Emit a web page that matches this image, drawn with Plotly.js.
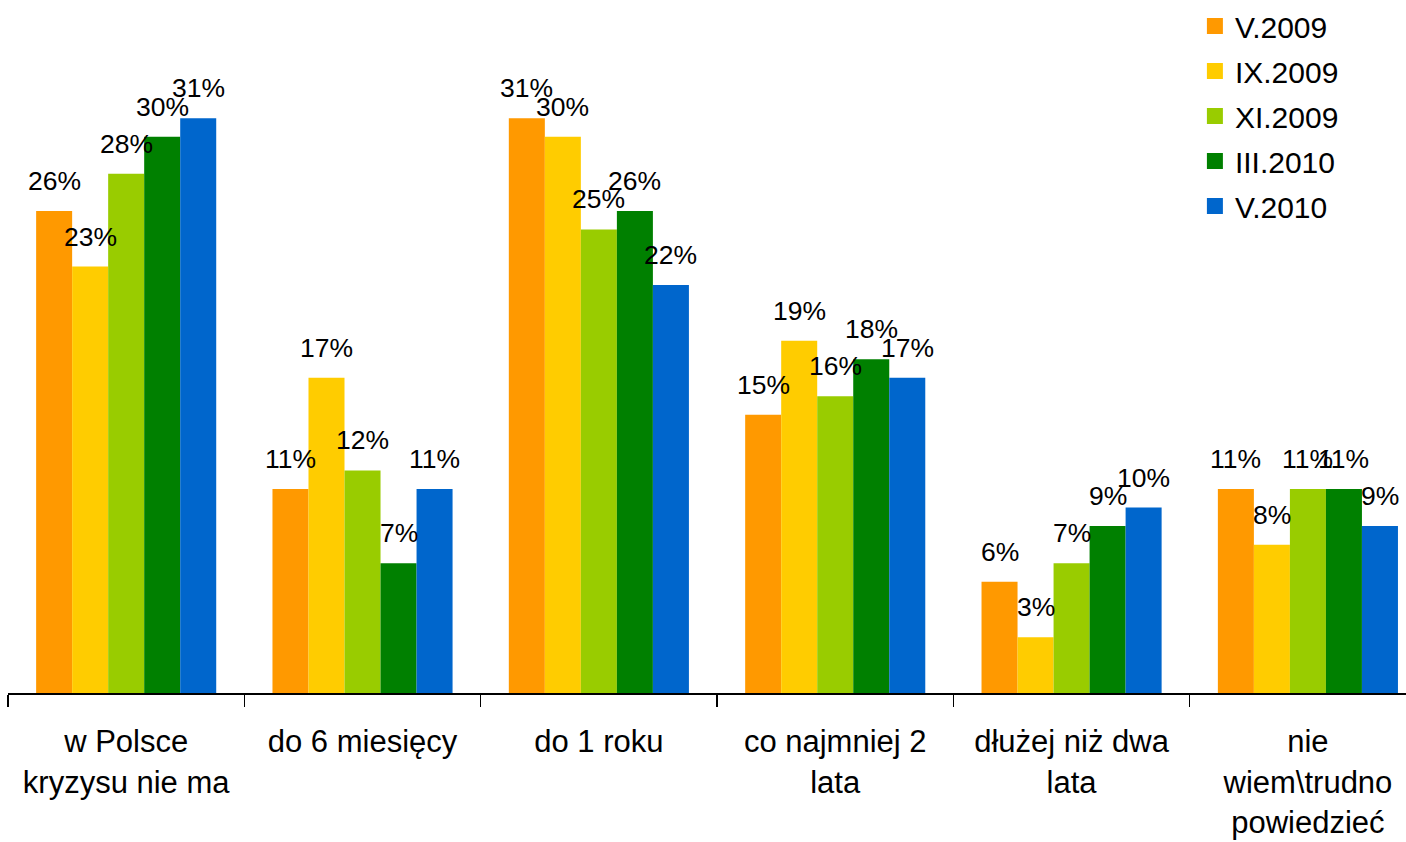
<!DOCTYPE html>
<html>
<head>
<meta charset="utf-8">
<script src="https://cdn.plot.ly/plotly-3.0.1.min.js"></script>
<style>html,body{margin:0;padding:0;background:#fff;overflow:hidden;}</style>
</head>
<body>
<div id="chart" style="width:1406px;height:842px;"></div>
<script>
const categories = [
  "w Polsce<br>kryzysu nie ma",
  "do 6 miesięcy",
  "do 1 roku",
  "co najmniej 2<br>lata",
  "dłużej niż dwa<br>lata",
  "nie<br>wiem\\trudno<br>powiedzieć"
];
const seriesNames = ["V.2009", "IX.2009", "XI.2009", "III.2010", "V.2010"];
const seriesColors = ["#FF9900", "#FFCC00", "#99CC00", "#008000", "#0066CC"];
const v2009a = [26, 11, 31, 15, 6, 11];
const ix2009 = [23, 17, 30, 19, 3, 8];
const xi2009 = [28, 12, 25, 16, 7, 11];
const iii2010 = [30, 7, 26, 18, 9, 11];
const v2010 = [31, 11, 22, 17, 10, 9];
const seriesValues = [v2009a, ix2009, xi2009, iii2010, v2010];

const FONT = "Liberation Sans, Arial, sans-serif";
const bargap = 0.238;
const nS = seriesValues.length;
const bw = (1 - bargap) / nS;

const traces = [];
seriesValues.forEach((vals, si) => {
  traces.push({
    type: "bar",
    x: categories,
    y: vals,
    name: seriesNames[si],
    marker: {color: seriesColors[si]},
    showlegend: false,
    hoverinfo: "y"
  });
});
// legend entries
seriesNames.forEach((n, si) => {
  traces.push({
    type: "scatter",
    mode: "markers",
    x: [null],
    y: [null],
    name: n,
    legendgroup: "g" + si,
    marker: {symbol: "square", size: 16, color: seriesColors[si]},
    showlegend: true
  });
});

const annotations = [];
seriesValues.forEach((vals, si) => {
  vals.forEach((v, ci) => {
    annotations.push({
      x: ci + (si - (nS - 1) / 2) * bw,
      y: v,
      xref: "x",
      yref: "y",
      text: v + "%",
      showarrow: false,
      yanchor: "bottom",
      xanchor: "center",
      yshift: 13,
      font: {family: FONT, size: 26.5, color: "#000"}
    });
  });
});

const layout = {
  width: 1406,
  height: 842,
  margin: {l: 8, r: 0, t: 10, b: 149},
  paper_bgcolor: "#fff",
  plot_bgcolor: "#fff",
  font: {family: FONT, color: "#000"},
  barmode: "group",
  bargap: bargap,
  bargroupgap: 0,
  showlegend: true,
  legend: {
    x: 0.849, xanchor: "left",
    y: 1.016, yanchor: "top",
    font: {family: FONT, size: 30, color: "#000"},
    tracegroupgap: 3,
    bgcolor: "rgba(0,0,0,0)"
  },
  xaxis: {
    type: "category",
    range: [-0.5, 5.415],
    showline: true,
    linecolor: "#000",
    linewidth: 2,
    ticks: "outside",
    tickson: "boundaries",
    ticklen: 12,
    tickwidth: 1.5,
    tickcolor: "#000",
    showgrid: false,
    zeroline: false,
    tickfont: {family: FONT, size: 31, color: "#000"},
    ticklabelstandoff: 20,
    fixedrange: true
  },
  yaxis: {
    range: [0, 36.78],
    visible: false,
    showgrid: false,
    zeroline: false,
    fixedrange: true
  },
  annotations: annotations
};

Plotly.newPlot("chart", traces, layout, {displayModeBar: false, staticPlot: true});
</script>
</body>
</html>
